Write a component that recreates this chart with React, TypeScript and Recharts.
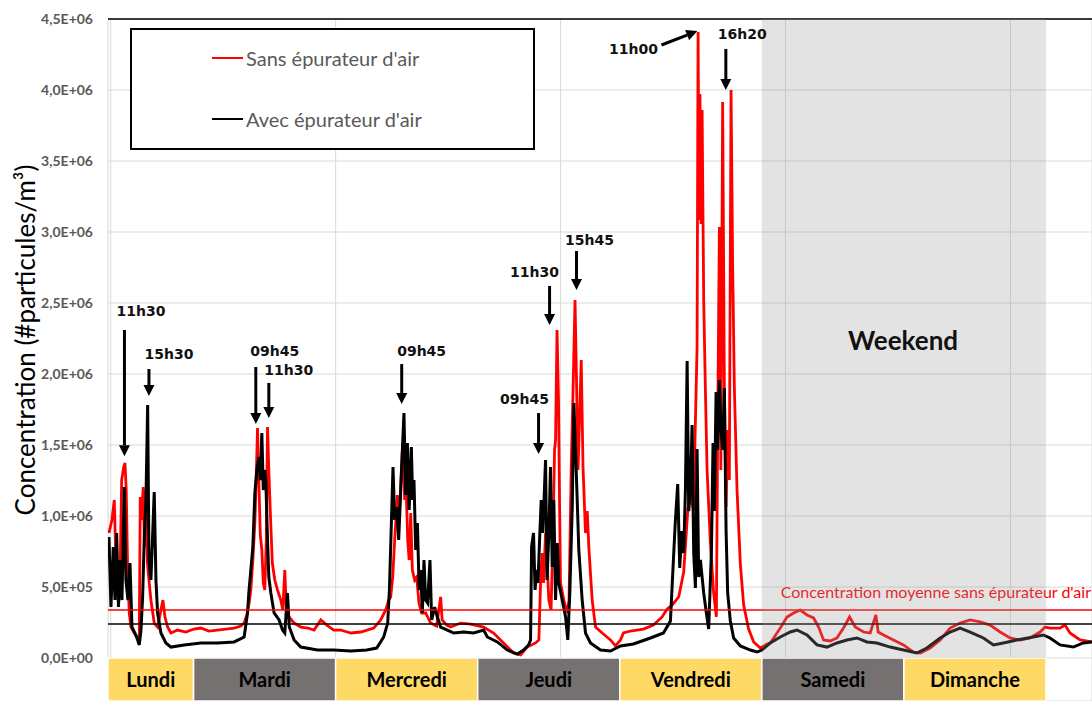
import React from 'react';
import {
  LineChart,
  Line,
  XAxis,
  YAxis,
  CartesianGrid,
  ReferenceLine,
  ReferenceArea,
  ReferenceDot,
  Legend,
} from 'recharts';

// Time in hours from Monday 00:00
const sansHours = [
  9.70, 10.21, 10.60, 10.89, 11.22, 11.56, 11.85, 12.19, 12.41, 12.62, 12.86, 13.13, 13.42, 13.97, 14.55, 14.82,
  14.99, 15.19, 15.49, 15.70, 15.95, 16.20, 16.46, 16.79, 17.35, 17.92, 18.48, 18.82, 19.16, 19.61, 20.17, 21.30,
  22.70, 24.05, 25.23, 26.58, 28.05, 29.45, 30.85, 31.98, 32.54, 33.00, 33.38, 33.67, 34.01, 34.35, 34.51, 34.80,
  35.02, 35.27, 35.53, 35.78, 36.03, 36.29, 36.49, 36.71, 36.93, 37.30, 37.72, 38.18, 38.73, 39.07, 39.41, 39.66,
  40.14, 40.98, 42.11, 43.29, 44.35, 45.49, 46.50, 47.68, 48.86, 50.55, 52.24, 54.43, 55.61, 56.46, 56.96, 57.30,
  57.64, 57.97, 58.43, 58.73, 59.32, 59.66, 59.92, 60.17, 60.42, 60.68, 60.96, 61.35, 61.69, 62.08, 62.53, 63.21,
  64.05, 65.06, 65.74, 65.99, 66.75, 67.43, 69.11, 70.80, 73.00, 74.68, 76.37, 78.06, 79.24, 80.37, 81.77, 82.33,
  82.62, 82.87, 83.12, 83.46, 84.02, 84.39, 84.73, 84.98, 85.15, 85.40, 85.65, 85.82, 85.99, 86.55, 87.12, 87.43,
  87.80, 88.07, 88.44, 88.69, 88.95, 89.49, 89.79, 90.21, 90.50, 90.80, 91.34, 91.90, 93.03, 94.43, 95.27, 96.12,
  96.62, 97.81, 100.00, 101.69, 103.15, 104.00, 104.85, 105.96, 106.80, 107.48, 107.93, 108.44, 109.06, 109.23, 109.40, 109.54,
  109.74, 109.91, 110.18, 110.46, 110.75, 111.31, 111.86, 112.32, 112.54, 112.83, 113.08, 113.38, 113.67, 113.96, 114.26, 114.51,
  114.80, 115.07, 115.36, 115.81, 116.37, 116.93, 117.77, 118.62, 119.75, 120.88, 121.43, 123.12, 124.25, 125.37, 126.50, 127.63,
  128.74, 129.59, 130.43, 131.56, 132.69, 133.80, 134.82, 135.78, 137.18, 138.31, 139.27, 139.66, 140.56, 142.24, 143.93, 145.62,
  146.75, 148.44, 150.13, 151.81, 153.50, 155.19, 156.88, 158.57, 160.25, 161.94, 163.63, 165.32, 167.00, 167.85, 168.69, 170.38,
  171.22, 172.07, 173.76, 175.78,
];
const sansValues = [
  0.880e6, 0.972e6, 1.113e6, 0.669e6, 0.408e6, 0.549e6, 1.253e6, 1.345e6, 1.373e6, 1.183e6, 0.620e6, 0.317e6, 0.218e6, 0.176e6, 0.141e6, 0.113e6,
  1.134e6, 0.972e6, 1.204e6, 0.782e6, 1.183e6, 0.669e6, 0.549e6, 0.408e6, 0.246e6, 0.218e6, 0.338e6, 0.408e6, 0.289e6, 0.218e6, 0.176e6, 0.197e6,
  0.183e6, 0.204e6, 0.211e6, 0.190e6, 0.197e6, 0.204e6, 0.211e6, 0.225e6, 0.246e6, 0.303e6, 0.387e6, 0.479e6, 0.690e6, 0.951e6, 1.162e6, 1.620e6,
  1.253e6, 0.866e6, 0.761e6, 0.528e6, 0.479e6, 0.831e6, 1.627e6, 1.324e6, 1.063e6, 0.669e6, 0.549e6, 0.479e6, 0.408e6, 0.338e6, 0.620e6, 0.338e6,
  0.289e6, 0.246e6, 0.218e6, 0.211e6, 0.197e6, 0.268e6, 0.232e6, 0.197e6, 0.197e6, 0.176e6, 0.183e6, 0.211e6, 0.268e6, 0.338e6, 0.408e6, 0.430e6,
  0.570e6, 0.831e6, 1.148e6, 0.972e6, 1.514e6, 1.113e6, 1.183e6, 0.831e6, 0.690e6, 1.021e6, 0.620e6, 0.549e6, 0.570e6, 0.387e6, 0.317e6, 0.317e6,
  0.246e6, 0.225e6, 0.430e6, 0.268e6, 0.232e6, 0.218e6, 0.246e6, 0.239e6, 0.218e6, 0.176e6, 0.106e6, 0.035e6, 0.021e6, 0.077e6, 0.106e6, 0.127e6,
  0.528e6, 0.739e6, 0.528e6, 0.880e6, 0.408e6, 0.338e6, 0.880e6, 1.465e6, 1.535e6, 2.310e6, 1.817e6, 1.113e6, 0.528e6, 0.408e6, 0.317e6, 0.408e6,
  1.345e6, 1.817e6, 2.521e6, 1.958e6, 1.324e6, 2.099e6, 1.345e6, 0.880e6, 1.035e6, 0.761e6, 0.408e6, 0.218e6, 0.176e6, 0.127e6, 0.085e6, 0.127e6,
  0.176e6, 0.190e6, 0.204e6, 0.232e6, 0.289e6, 0.345e6, 0.373e6, 0.430e6, 0.606e6, 1.035e6, 1.183e6, 1.035e6, 2.190e6, 4.408e6, 3.084e6, 3.972e6,
  3.056e6, 3.859e6, 2.521e6, 1.901e6, 1.324e6, 0.810e6, 0.458e6, 0.289e6, 1.613e6, 3.035e6, 1.324e6, 3.915e6, 1.901e6, 1.063e6, 1.606e6, 1.253e6,
  4.000e6, 2.767e6, 1.901e6, 1.183e6, 0.662e6, 0.373e6, 0.204e6, 0.113e6, 0.070e6, 0.099e6, 0.106e6, 0.211e6, 0.289e6, 0.317e6, 0.338e6, 0.303e6,
  0.282e6, 0.218e6, 0.127e6, 0.120e6, 0.141e6, 0.211e6, 0.289e6, 0.218e6, 0.183e6, 0.176e6, 0.303e6, 0.183e6, 0.162e6, 0.127e6, 0.092e6, 0.042e6,
  0.035e6, 0.070e6, 0.127e6, 0.211e6, 0.246e6, 0.268e6, 0.254e6, 0.232e6, 0.183e6, 0.141e6, 0.127e6, 0.141e6, 0.183e6, 0.218e6, 0.211e6, 0.211e6,
  0.232e6, 0.176e6, 0.127e6, 0.113e6,
];

const avecHours = [
  9.70, 10.04, 10.43, 10.72, 11.00, 11.31, 11.61, 11.90, 12.29, 12.57, 12.91, 13.25, 13.59, 14.09, 14.55, 14.82,
  15.11, 15.39, 15.66, 15.95, 16.24, 16.46, 16.79, 17.05, 17.35, 17.64, 17.92, 18.48, 19.32, 20.17, 22.41, 25.23,
  28.05, 30.85, 32.54, 33.11, 33.33, 33.67, 34.01, 34.35, 34.68, 35.02, 35.27, 35.53, 35.78, 36.03, 36.20, 36.49,
  36.71, 37.05, 37.60, 38.45, 39.02, 39.41, 39.86, 40.17, 40.98, 42.11, 44.93, 47.68, 50.55, 53.25, 54.94, 56.12,
  56.79, 57.08, 57.38, 57.69, 57.97, 58.31, 58.65, 59.11, 59.54, 59.83, 60.12, 60.42, 60.79, 61.01, 61.23, 61.52,
  61.81, 62.11, 62.36, 62.65, 62.92, 63.21, 63.54, 63.93, 64.22, 64.73, 65.18, 65.74, 66.87, 67.93, 69.62, 71.31,
  73.00, 73.62, 75.31, 77.00, 78.68, 79.75, 80.59, 80.93, 81.10, 81.43, 81.69, 81.94, 82.19, 82.45, 82.73, 82.99,
  83.46, 83.71, 84.02, 84.30, 84.59, 84.86, 85.15, 85.44, 85.70, 86.28, 86.84, 87.22, 87.56, 87.97, 88.24, 88.52,
  88.81, 89.08, 89.65, 90.21, 91.05, 92.74, 94.43, 96.12, 98.31, 101.18, 103.38, 104.56, 105.06, 105.40, 105.79, 106.13,
  106.47, 106.80, 107.09, 107.38, 107.65, 107.93, 108.22, 108.49, 108.78, 109.06, 109.33, 109.62, 110.18, 110.63, 111.02, 111.48,
  111.76, 111.98, 112.27, 112.54, 112.83, 113.11, 113.38, 113.67, 113.96, 114.23, 114.68, 115.24, 116.37, 118.06, 119.19, 120.03,
  121.43, 123.12, 124.81, 125.94, 127.63, 129.32, 131.01, 132.69, 134.38, 136.07, 137.76, 139.44, 141.69, 143.93, 146.19, 147.88,
  150.13, 151.81, 153.50, 155.19, 157.43, 159.13, 160.81, 163.07, 165.87, 167.56, 168.69, 170.38, 172.62, 174.31, 175.78,
];
const avecValues = [
  0.852e6, 0.359e6, 0.782e6, 0.408e6, 0.880e6, 0.359e6, 0.690e6, 0.408e6, 1.204e6, 0.549e6, 0.408e6, 0.669e6, 0.218e6, 0.176e6, 0.127e6, 0.092e6,
  0.197e6, 0.430e6, 0.831e6, 1.113e6, 1.782e6, 0.690e6, 0.549e6, 0.831e6, 1.169e6, 0.549e6, 0.317e6, 0.176e6, 0.106e6, 0.077e6, 0.092e6, 0.106e6,
  0.106e6, 0.113e6, 0.148e6, 0.317e6, 0.458e6, 0.620e6, 0.782e6, 1.162e6, 1.324e6, 1.415e6, 1.253e6, 1.584e6, 1.183e6, 1.324e6, 1.253e6, 0.831e6,
  0.570e6, 0.458e6, 0.317e6, 0.268e6, 0.197e6, 0.176e6, 0.458e6, 0.218e6, 0.127e6, 0.077e6, 0.056e6, 0.056e6, 0.049e6, 0.056e6, 0.070e6, 0.148e6,
  0.246e6, 0.479e6, 0.901e6, 1.345e6, 0.972e6, 1.063e6, 0.831e6, 1.303e6, 1.725e6, 1.148e6, 1.514e6, 1.042e6, 1.486e6, 1.113e6, 1.253e6, 0.761e6,
  0.951e6, 0.479e6, 0.620e6, 0.317e6, 0.690e6, 0.408e6, 0.387e6, 0.690e6, 0.268e6, 0.359e6, 0.289e6, 0.218e6, 0.197e6, 0.176e6, 0.183e6, 0.176e6,
  0.197e6, 0.148e6, 0.113e6, 0.056e6, 0.028e6, 0.056e6, 0.092e6, 0.127e6, 0.782e6, 0.880e6, 0.479e6, 0.620e6, 0.528e6, 0.831e6, 1.113e6, 0.880e6,
  1.394e6, 0.549e6, 0.880e6, 1.345e6, 0.641e6, 1.113e6, 0.408e6, 0.810e6, 0.528e6, 0.408e6, 0.289e6, 0.127e6, 0.458e6, 1.063e6, 1.796e6, 1.465e6,
  1.113e6, 0.761e6, 0.408e6, 0.176e6, 0.106e6, 0.056e6, 0.049e6, 0.085e6, 0.099e6, 0.141e6, 0.176e6, 0.261e6, 0.690e6, 0.972e6, 1.225e6, 0.634e6,
  0.894e6, 0.739e6, 1.183e6, 2.091e6, 1.035e6, 1.183e6, 1.641e6, 0.739e6, 0.493e6, 1.472e6, 0.570e6, 0.690e6, 0.458e6, 0.317e6, 0.204e6, 0.746e6,
  1.514e6, 1.035e6, 1.873e6, 1.465e6, 1.958e6, 1.606e6, 1.465e6, 1.901e6, 0.894e6, 0.458e6, 0.261e6, 0.141e6, 0.085e6, 0.056e6, 0.042e6, 0.056e6,
  0.106e6, 0.148e6, 0.183e6, 0.197e6, 0.162e6, 0.092e6, 0.077e6, 0.106e6, 0.127e6, 0.141e6, 0.113e6, 0.106e6, 0.077e6, 0.056e6, 0.035e6, 0.070e6,
  0.141e6, 0.183e6, 0.211e6, 0.183e6, 0.141e6, 0.092e6, 0.106e6, 0.127e6, 0.148e6, 0.162e6, 0.141e6, 0.092e6, 0.077e6, 0.106e6, 0.113e6,
];

const seriesNames = ["Sans épurateur d'air", "Avec épurateur d'air"];

const dayNames = ['Lundi', 'Mardi', 'Mercredi', 'Jeudi', 'Vendredi', 'Samedi', 'Dimanche'];
const dayStartHours = [9.54, 24, 48, 72, 96, 120, 144];
const dayEndHours = [24, 48, 72, 96, 120, 144, 168];

const weekendStart = 120;
const weekendEnd = 168;
const weekendLabel = 'Weekend';
const weekendLabelPos = { h: 143.87, v: 2.239e6 };

const meanSans = 0.338e6;
const meanAvec = 0.239e6;
const meanLabel = "Concentration moyenne sans épurateur d'air";

const yTicks = [0, 0.5e6, 1.0e6, 1.5e6, 2.0e6, 2.5e6, 3.0e6, 3.5e6, 4.0e6, 4.5e6];
const xGridTicks = [10, 48, 86, 124, 162];
const xDomain = [9.54, 175.78];
const yDomain = [-0.3028e6, 4.5e6];

const annotationLabels = ['11h30', '15h30', '09h45', '11h30', '09h45', '09h45', '11h30', '15h45', '11h00', '16h20'];
const annotationTextH = [15.1, 19.83, 37.72, 40.08, 62.53, 79.92, 81.6, 90.89, 98.31, 116.7];
const annotationTextV = [2.444e6, 2.141e6, 2.162e6, 2.028e6, 2.162e6, 1.824e6, 2.718e6, 2.944e6, 4.289e6, 4.394e6];
const arrowFromH = [12.32, 16.46, 34.51, 36.71, 59.16, 82.28, 84.14, 88.69, 103.04, 113.92];
const arrowFromV = [2.31e6, 2.035e6, 2.049e6, 1.937e6, 2.07e6, 1.725e6, 2.62e6, 2.866e6, 4.317e6, 4.289e6];
const arrowToH = [12.32, 16.46, 34.51, 36.71, 59.16, 82.28, 84.14, 88.69, 109.11, 113.92];
const arrowToV = [1.42e6, 1.845e6, 1.648e6, 1.69e6, 1.789e6, 1.437e6, 2.345e6, 2.591e6, 4.415e6, 4.0e6];

const sansData = sansHours.map((h, i) => ({ h, v: sansValues[i] }));
const avecData = avecHours.map((h, i) => ({ h, v: avecValues[i] }));

const formatSci = (v: number) => {
  if (v === 0) return '0,0E+00';
  const exp = Math.floor(Math.log10(v) + 1e-9);
  const mant = v / Math.pow(10, exp);
  return `${mant.toFixed(1).replace('.', ',')}E+${String(exp).padStart(2, '0')}`;
};

const Arrow = (props: any) => {
  const { x1, y1, x2, y2 } = props;
  const dx = x2 - x1;
  const dy = y2 - y1;
  const len = Math.hypot(dx, dy) || 1;
  const ux = dx / len;
  const uy = dy / len;
  const hl = 11;
  const hw = 5.5;
  const bx = x2 - ux * hl;
  const by = y2 - uy * hl;
  return (
    <g>
      <line x1={x1} y1={y1} x2={bx} y2={by} stroke="#000" strokeWidth={3} />
      <polygon
        points={`${x2},${y2} ${bx - uy * hw},${by + ux * hw} ${bx + uy * hw},${by - ux * hw}`}
        fill="#000"
      />
    </g>
  );
};

const makeTextShape = (txt: string, size: number, family: string) => (p: any) => (
  <text
    x={p.cx}
    y={p.cy}
    textAnchor="middle"
    dominantBaseline="central"
    fontSize={size}
    fontWeight={700}
    fontFamily={family}
    fill="#111"
  >
    {txt}
  </text>
);

const MeanLabel = (props: any) => {
  const vb = props.viewBox || {};
  const x = (vb.x ?? 108) + (vb.width ?? 984) - 1;
  const y = (vb.y ?? 610) - 12;
  return (
    <text x={x} y={y} textAnchor="end" fontSize={16} fontFamily="Lato, sans-serif" fill="#FF0000">
      {meanLabel}
    </text>
  );
};

const YTitle = () => (
  <text
    x={25}
    y={340}
    transform="rotate(-90 25 340)"
    textAnchor="middle"
    dominantBaseline="central"
    fontSize={26}
    fontFamily="Lato, sans-serif"
    fill="#000"
  >
    Concentration (#particules/m³)
  </text>
);

const LegendBox = (props: any) => {
  const payload = [...(props.payload || [])].sort(
    (a: any, b: any) => seriesNames.indexOf(a.value) - seriesNames.indexOf(b.value)
  );
  return (
    <div
      style={{
        width: 401,
        height: 118,
        border: '2px solid #000',
        background: '#fff',
        position: 'relative',
        fontFamily: 'Lato, sans-serif',
      }}
    >
      {payload.map((e: any, i: number) => (
        <div
          key={i}
          style={{
            position: 'absolute',
            left: 80,
            top: 16 + i * 61,
            height: 24,
            display: 'flex',
            alignItems: 'center',
            whiteSpace: 'nowrap',
          }}
        >
          <span style={{ display: 'inline-block', width: 31, height: 2, background: e.color, marginRight: 3 }} />
          <span style={{ fontSize: 20, color: '#595959', lineHeight: '24px' }}>{e.value}</span>
        </div>
      ))}
    </div>
  );
};

export default function App() {
  return (
    <div style={{ position: 'absolute', left: 0, top: 0, width: 1092, height: 701, background: '#fff' }}>
      <LineChart width={1092} height={701} margin={{ top: 19, right: 0, bottom: 0, left: 0 }}>
        <CartesianGrid stroke="#D9D9D9" strokeWidth={1} />
        <XAxis
          type="number"
          dataKey="h"
          domain={xDomain}
          ticks={xGridTicks}
          allowDataOverflow
          hide
        />
        <YAxis
          type="number"
          domain={yDomain}
          ticks={yTicks}
          width={108}
          allowDataOverflow
          tickFormatter={formatSci}
          tickLine={false}
          axisLine={false}
          tickMargin={9}
          tick={{ fill: '#595959', fontSize: 14, fontWeight: 700, fontFamily: 'Lato, sans-serif' }}
          label={<YTitle />}
        />
        {dayNames.map((d, i) => (
          <ReferenceArea
            key={d}
            x1={dayStartHours[i]}
            x2={dayEndHours[i]}
            y1={yDomain[0]}
            y2={0}
            fill={i % 2 === 0 ? '#FFD966' : '#767171'}
            fillOpacity={1}
            stroke="#fff"
            strokeWidth={1.5}
            ifOverflow="visible"
            label={{
              value: d,
              position: 'center',
              fill: '#000',
              fontSize: 20,
              fontWeight: 700,
              fontFamily: 'Lato, sans-serif',
            }}
          />
        ))}
        <Line
          data={sansData}
          dataKey="v"
          name={seriesNames[0]}
          stroke="#FF0000"
          strokeWidth={2.8}
          dot={false}
          isAnimationActive={false}
          type="linear"
        />
        <Line
          data={avecData}
          dataKey="v"
          name={seriesNames[1]}
          stroke="#000000"
          strokeWidth={3}
          dot={false}
          isAnimationActive={false}
          type="linear"
        />
        <ReferenceArea
          x1={weekendStart}
          x2={weekendEnd}
          y1={0}
          y2={4.5e6}
          fill="rgb(150,150,150)"
          fillOpacity={0.27}
          stroke="none"
          zIndex={500}
        />
        <ReferenceLine y={meanSans} stroke="#FF0000" strokeWidth={1.5} label={<MeanLabel />} />
        <ReferenceLine y={meanAvec} stroke="#000" strokeWidth={1.5} />
        <ReferenceLine y={4.5e6} stroke="#000" strokeWidth={1.5} />
        {annotationLabels.map((l, i) => (
          <ReferenceLine
            key={`arrow-${i}`}
            segment={[
              { x: arrowFromH[i], y: arrowFromV[i] },
              { x: arrowToH[i], y: arrowToV[i] },
            ]}
            shape={Arrow}
          />
        ))}
        {annotationLabels.map((l, i) => (
          <ReferenceDot
            key={`txt-${i}`}
            x={annotationTextH[i]}
            y={annotationTextV[i]}
            r={0}
            shape={makeTextShape(l, 14, 'DejaVu Sans, sans-serif')}
          />
        ))}
        <ReferenceDot
          x={weekendLabelPos.h}
          y={weekendLabelPos.v}
          r={0}
          shape={makeTextShape(weekendLabel, 26, 'Lato, sans-serif')}
        />
        <Legend
          layout="vertical"
          align="center"
          verticalAlign="middle"
          content={<LegendBox />}
          wrapperStyle={{ left: 130, top: 28, width: 405, height: 122 }}
        />
      </LineChart>
    </div>
  );
}
